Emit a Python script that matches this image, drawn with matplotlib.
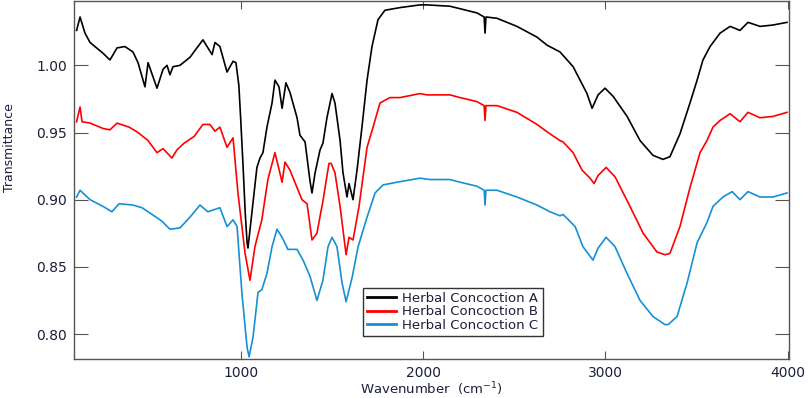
import matplotlib
matplotlib.use('Agg')
import matplotlib.pyplot as plt
import numpy as np

# wavenumber (cm-1) / transmittance
wn_a = [100, 119, 146, 174, 245, 283, 322, 365, 409, 437, 475, 492, 541, 574, 596, 612, 629, 667,
        722, 749, 793, 843, 859, 886, 925, 958, 974, 990, 1000, 1013, 1025, 1035, 1040, 1062, 1089,
        1106, 1122, 1144, 1172, 1188, 1210, 1227, 1248, 1270, 1309, 1325, 1353, 1380, 1391, 1408,
        1435, 1451, 1473, 1501, 1517, 1545, 1561, 1583, 1594, 1616, 1638, 1665, 1693, 1720, 1753,
        1791, 1874, 1983, 2022, 2148, 2296, 2335, 2340, 2345, 2406, 2515, 2625, 2680, 2751, 2823,
        2861, 2899, 2927, 2960, 2998, 3042, 3119, 3190, 3261, 3316, 3354, 3409, 3464, 3503, 3535,
        3574, 3629, 3684, 3738, 3782, 3848, 3919, 3996]
t_a = [1.026, 1.036, 1.024, 1.017, 1.009, 1.004, 1.013, 1.014, 1.010, 1.002, 0.984, 1.002, 0.983,
       0.997, 1.000, 0.993, 0.999, 1.000, 1.006, 1.011, 1.019, 1.008, 1.017, 1.014, 0.995, 1.003,
       1.002, 0.985, 0.960, 0.925, 0.890, 0.868, 0.864, 0.891, 0.924, 0.931, 0.935, 0.954, 0.972,
       0.989, 0.984, 0.968, 0.987, 0.980, 0.961, 0.948, 0.943, 0.914, 0.905, 0.920, 0.937, 0.942,
       0.961, 0.979, 0.972, 0.944, 0.920, 0.902, 0.912, 0.900, 0.922, 0.954, 0.989, 1.014, 1.034,
       1.041, 1.043, 1.045, 1.045, 1.044, 1.039, 1.036, 1.024, 1.036, 1.035, 1.029, 1.021, 1.015,
       1.010, 0.999, 0.989, 0.979, 0.968, 0.978, 0.983, 0.977, 0.962, 0.944, 0.933, 0.930, 0.932,
       0.949, 0.972, 0.989, 1.004, 1.014, 1.024, 1.029, 1.026, 1.032, 1.029, 1.030, 1.032]

wn_b = [100, 119, 130, 174, 245, 283, 322, 388, 437, 492, 541, 574, 623, 650, 689, 744, 793, 831,
        859, 886, 925, 958, 985, 1024, 1051, 1078, 1116, 1149, 1188, 1227, 1243, 1270, 1309, 1336,
        1364, 1391, 1418, 1451, 1484, 1496, 1517, 1545, 1578, 1594, 1616, 1649, 1693, 1726, 1764,
        1819, 1874, 1983, 2022, 2148, 2203, 2296, 2335, 2340, 2345, 2406, 2515, 2625, 2696, 2751,
        2768, 2823, 2872, 2916, 2938, 2960, 3004, 3053, 3135, 3207, 3283, 3327, 3354, 3409, 3464,
        3519, 3557, 3590, 3629, 3684, 3738, 3782, 3848, 3919, 3996]
t_b = [0.958, 0.969, 0.958, 0.957, 0.953, 0.952, 0.957, 0.954, 0.950, 0.944, 0.935, 0.938, 0.931,
       0.937, 0.942, 0.947, 0.956, 0.956, 0.951, 0.954, 0.939, 0.946, 0.905, 0.860, 0.840, 0.865,
       0.885, 0.915, 0.935, 0.913, 0.928, 0.922, 0.909, 0.900, 0.897, 0.870, 0.875, 0.899, 0.927,
       0.927, 0.920, 0.895, 0.859, 0.872, 0.870, 0.895, 0.939, 0.954, 0.972, 0.976, 0.976, 0.979,
       0.978, 0.978, 0.976, 0.973, 0.970, 0.959, 0.970, 0.970, 0.965, 0.956, 0.949, 0.944, 0.943,
       0.935, 0.922, 0.916, 0.912, 0.918, 0.924, 0.917, 0.895, 0.875, 0.861, 0.859, 0.860, 0.880,
       0.909, 0.935, 0.944, 0.954, 0.959, 0.964, 0.958, 0.965, 0.961, 0.962, 0.965]

wn_c = [100, 119, 174, 245, 294, 333, 409, 459, 514, 568, 612, 667, 722, 777, 820, 886, 925, 958,
        980, 1007, 1035, 1046, 1068, 1095, 1116, 1144, 1172, 1199, 1227, 1259, 1309, 1342, 1380,
        1418, 1451, 1479, 1501, 1528, 1556, 1578, 1611, 1644, 1693, 1737, 1781, 1857, 1983, 2038,
        2148, 2203, 2296, 2335, 2340, 2345, 2406, 2515, 2625, 2696, 2751, 2768, 2834, 2877, 2932,
        2960, 3004, 3053, 3119, 3190, 3261, 3327, 3344, 3393, 3448, 3503, 3557, 3590, 3645, 3695,
        3738, 3782, 3848, 3919, 3996]
t_c = [0.902, 0.907, 0.900, 0.895, 0.891, 0.897, 0.896, 0.894, 0.889, 0.884, 0.878, 0.879, 0.887,
       0.896, 0.891, 0.894, 0.880, 0.885, 0.880, 0.830, 0.790, 0.783, 0.798, 0.831, 0.833, 0.845,
       0.865, 0.878, 0.872, 0.863, 0.863, 0.855, 0.843, 0.825, 0.840, 0.865, 0.872, 0.865, 0.838,
       0.824, 0.842, 0.865, 0.887, 0.905, 0.911, 0.913, 0.916, 0.915, 0.915, 0.913, 0.910, 0.907,
       0.896, 0.907, 0.907, 0.902, 0.896, 0.891, 0.888, 0.889, 0.880, 0.865, 0.855, 0.864, 0.872,
       0.865, 0.845, 0.825, 0.813, 0.807, 0.807, 0.813, 0.838, 0.868, 0.883, 0.895, 0.902, 0.906,
       0.900, 0.906, 0.902, 0.902, 0.905]

labels = ['Herbal Concoction A', 'Herbal Concoction B', 'Herbal Concoction C']
colors = ['#000000', '#ff0000', '#1590d5']

TEXT_COLOR = '#1b1f3b'
FRAME_COLOR = '#555555'

fig = plt.figure(figsize=(8.09, 3.98), dpi=100)
ax = fig.add_axes([0.0915, 0.099, 0.8838, 0.8985])

for wn, t, lab, c in zip([wn_a, wn_b, wn_c], [t_a, t_b, t_c], labels, colors):
    ax.plot(wn, t, color=c, lw=1.2, label=lab)

ax.set_xlim(86, 4007)
ax.set_ylim(0.7817, 1.0479)
ax.set_xticks([1000, 2000, 3000, 4000])
ax.set_yticks([0.80, 0.85, 0.90, 0.95, 1.00])
ax.set_yticklabels(['0.80', '0.85', '0.90', '0.95', '1.00'])

for s in ax.spines.values():
    s.set_color(FRAME_COLOR)
    s.set_linewidth(1.0)
ax.tick_params(axis='both', direction='in', top=True, right=True, color=FRAME_COLOR,
               labelcolor=TEXT_COLOR, labelsize=10)
ax.tick_params(axis='y', length=10, pad=5)
ax.tick_params(axis='x', length=6, pad=5)

# x label placed in pixels: centre about 30 px under the axes
fig.text(0.5 * (0.0915 + 0.9753), 1 - 389 / 398, 'Wavenumber  (cm$^{-1}$)', ha='center',
         va='center', fontsize=9.5, color=TEXT_COLOR)
fig.text(10 / 809, 1 - 148 / 398, 'Transmittance', rotation=90, ha='center', va='center',
         fontsize=9, color=TEXT_COLOR)

leg = ax.legend(loc='lower left', bbox_to_anchor=(0.404, 0.063), borderaxespad=0,
                fontsize=9.5, labelspacing=0.05, handlelength=2.2, handletextpad=0.5,
                borderpad=0.3, fancybox=False, framealpha=1)
leg.get_frame().set_edgecolor('#333333')
leg.get_frame().set_linewidth(1.0)
for txt in leg.get_texts():
    txt.set_color(TEXT_COLOR)
for line in leg.get_lines():
    line.set_linewidth(2.0)

fig.savefig('out.png', dpi=100)
